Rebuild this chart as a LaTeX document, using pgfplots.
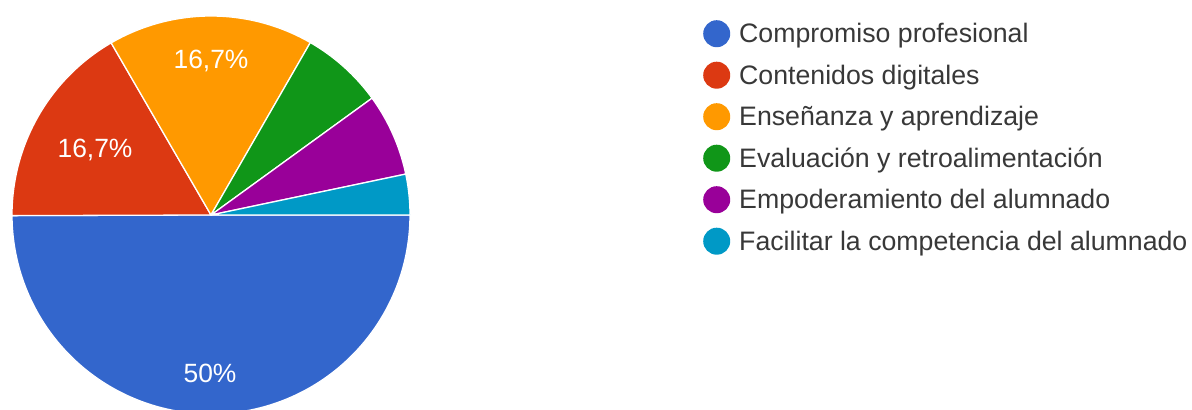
\documentclass[border=0pt]{standalone}
\usepackage{fontspec}
\setmainfont{Liberation Sans}
\usepackage{pgfplots}
\usepackage{pgfplotstable}
\pgfplotsset{compat=1.18}

\definecolor{gblue}{HTML}{3366CC}
\definecolor{gred}{HTML}{DC3912}
\definecolor{gorange}{HTML}{FF9900}
\definecolor{ggreen}{HTML}{109618}
\definecolor{gpurple}{HTML}{990099}
\definecolor{gcyan}{HTML}{0099C6}
\definecolor{lgray}{HTML}{383838}

% share of answers (%), in legend order
\pgfplotstableread{
value col
50   gblue
16.7 gred
16.7 gorange
6.7  ggreen
6.7  gpurple
3.3  gcyan
}\slices

% pie centre and radius, in picture pixels (y measured from the bottom)
\def\cx{211}\def\cy{195}\def\R{199}

\pgfmathsetmacro\total{0}
\pgfplotsforeachungrouped \i in {0,...,5}{%
  \pgfplotstablegetelem{\i}{value}\of\slices
  \pgfmathsetmacro\total{\total+\pgfplotsretval}%
}
\pgfmathsetmacro\degper{360/\total}

\newcommand\slice[3]{%
  \addplot[forget plot, fill=#3, draw=white, line width=1.3pt, line join=round,
    domain=#1:#2, samples=120, variable=\t]
    ({\cx+\R*cos(\t)}, {\cy+\R*sin(\t)}) -- (axis cs:\cx,\cy) -- cycle;
  \addlegendimage{fill=#3}}

\begin{document}
\begin{tikzpicture}
\begin{axis}[
  scale only axis,
  width=1192bp, height=410bp,
  xmin=0, xmax=1192, ymin=0, ymax=410,
  hide axis,
  clip=true,
  legend image code/.code={\begin{scope}[#1]
      \pgfpathcircle{\pgfpoint{13.5bp}{0bp}}{13.5bp}\pgfusepath{fill}\end{scope}},
  legend cell align=left,
  legend style={draw=none, fill=none, at={(axis cs:703,390)}, anchor=north west,
    font=\fontsize{26.8}{31}\selectfont, text=lgray, inner sep=0pt,
    row sep=14.5bp, column sep=9bp,
    nodes={inner sep=0pt}},
]
\pgfmathsetmacro\acc{0}
\pgfplotsforeachungrouped \i in {0,...,5}{%
  \pgfplotstablegetelem{\i}{value}\of\slices
  \pgfmathsetmacro\nxt{\acc-\degper*\pgfplotsretval}%
  \pgfplotstablegetelem{\i}{col}\of\slices
  \edef\cmd{\noexpand\slice{\nxt}{\acc}{\pgfplotsretval}}\cmd
  \let\acc\nxt
}
\legend{Compromiso profesional, Contenidos digitales, Enseñanza y aprendizaje,
  Evaluación y retroalimentación, Empoderamiento del alumnado,
  Facilitar la competencia del alumnado}

\node[text=white, font=\fontsize{26.5}{30}\selectfont] at (axis cs:211,349) {16,7\%};
\node[text=white, font=\fontsize{26.5}{30}\selectfont] at (axis cs:95,260) {16,7\%};
\node[text=white, font=\fontsize{26.5}{30}\selectfont] at (axis cs:210,37) {50\%};
\end{axis}
\pgfresetboundingbox
\path (current axis.south west) rectangle (current axis.north east);
\end{tikzpicture}
\end{document}
